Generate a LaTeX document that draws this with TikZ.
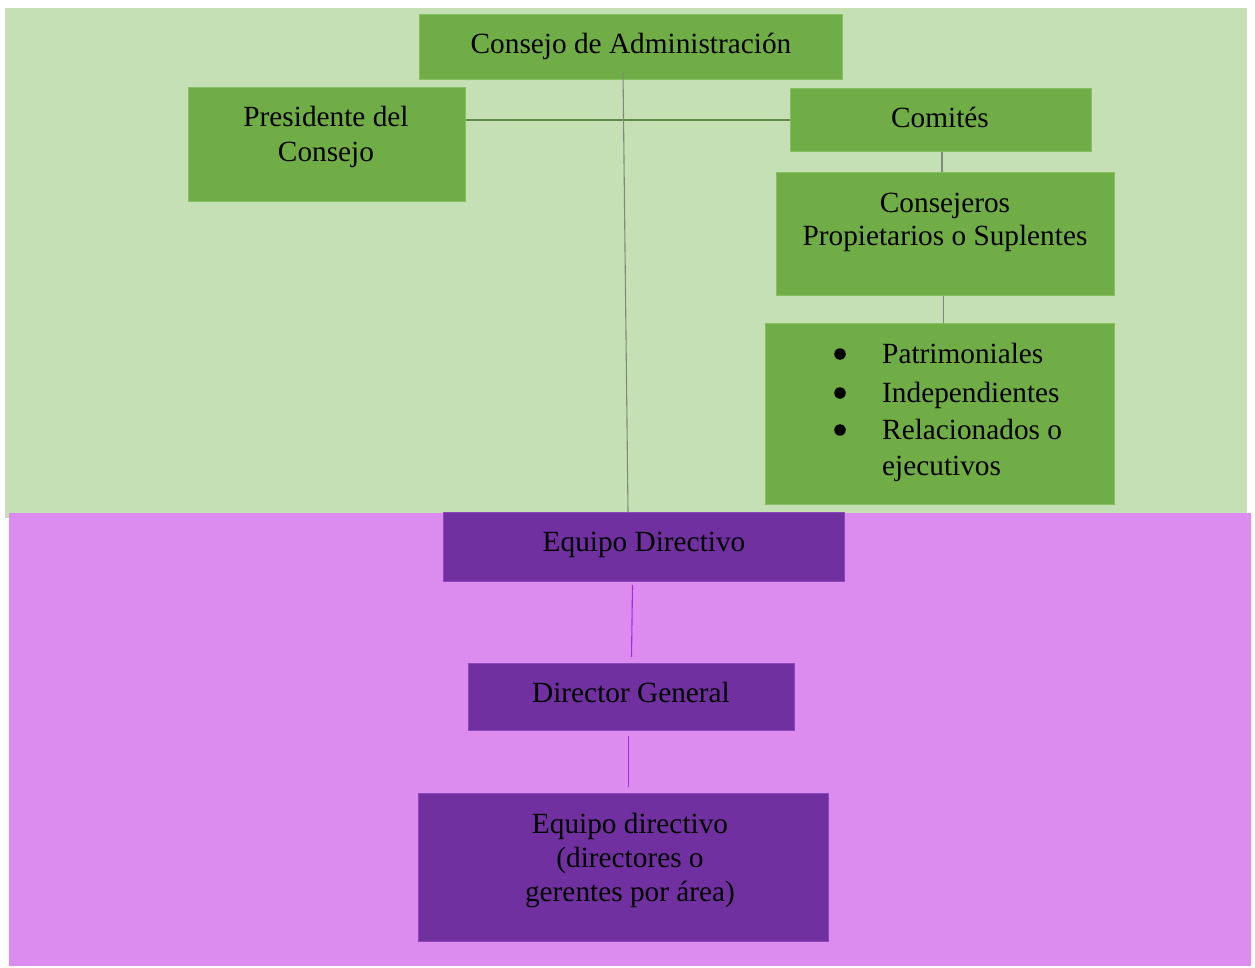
\documentclass[tikz,border=0pt]{standalone}
\usepackage{fontspec}
\setmainfont{Liberation Serif}
\definecolor{bandgreen}{HTML}{C5E0B4}
\definecolor{boxgreen}{HTML}{70AD47}
\definecolor{edgegreen}{HTML}{86BE62}
\definecolor{linkgreen}{HTML}{5F8A4A}
\definecolor{linkgray}{HTML}{7F8A7A}
\definecolor{bandpurple}{HTML}{DC8CEF}
\definecolor{boxpurple}{HTML}{7030A0}
\definecolor{edgepurple}{HTML}{8A48BC}
\definecolor{linkpurple}{HTML}{A52AE0}
\tikzset{
  gbox/.style={rectangle, fill=boxgreen, draw=edgegreen, line width=1pt, inner sep=0pt, anchor=north west},
  pbox/.style={rectangle, fill=boxpurple, draw=edgepurple, line width=1pt, inner sep=0pt, anchor=north west},
  lbl/.style={inner sep=0pt, anchor=base, text=black, font=\fontsize{29.3}{34}\selectfont},
  lbll/.style={lbl, anchor=base west},
  dot/.style={circle, fill=black, inner sep=0pt, minimum size=11.5pt},
  glink/.style={draw=linkgreen, line width=1.1pt},
  graylink/.style={draw=linkgray, line width=1.1pt},
  plink/.style={draw=linkpurple, line width=1.1pt}
}
\begin{document}
\begin{tikzpicture}[x=1pt, y=-1pt]
\useasboundingbox (0,0) rectangle (1255,967);
% two coloured bands
\fill[bandgreen] (5,8) rectangle (1247,518);
\fill[bandpurple] (9,513) rectangle (1251,966);

% board section
\node[gbox, minimum width=423pt, minimum height=65pt] (consejo) at (419,14) {};
\node[lbl] (tconsejo) at (631,53) {Consejo de Administración};

\node[gbox, minimum width=277pt, minimum height=114pt] (pres) at (188,87) {};
\node[lbl] (tpres1) at (326,126) {Presidente del};
\node[lbl] (tpres2) at (326,161) {Consejo};

\node[gbox, minimum width=301pt, minimum height=63pt] (comites) at (790,88) {};
\node[lbl] (tcomites) at (940,127) {Comités};

\node[gbox, minimum width=338pt, minimum height=123pt] (consej) at (776,172) {};
\node[lbl] (tconsej1) at (945,212) {Consejeros};
\node[lbl] (tconsej2) at (945,245) {Propietarios o Suplentes};

\node[gbox, minimum width=349pt, minimum height=181pt] (tipos) at (765,323) {};
\node[dot] (b1) at (840,354) {};
\node[dot] (b2) at (840,393) {};
\node[dot] (b3) at (840,430) {};
\node[lbll] (ttipo1) at (882,363) {Patrimoniales};
\node[lbll] (ttipo2) at (882,402) {Independientes};
\node[lbll] (ttipo3) at (882,439) {Relacionados o};
\node[lbll] (ttipo4) at (882,475) {ejecutivos};

% management section
\node[pbox, minimum width=401pt, minimum height=69pt] (equipo) at (443,512) {};
\node[lbl] (tequipo) at (644,551) {Equipo Directivo};

\node[pbox, minimum width=326pt, minimum height=67pt] (dg) at (468,663) {};
\node[lbl] (tdg) at (631,702) {Director General};

\node[pbox, minimum width=410pt, minimum height=148pt] (areas) at (418,793) {};
\node[lbl] (tareas1) at (630,833) {Equipo directivo};
\node[lbl] (tareas2) at (630,867) {(directores o};
\node[lbl] (tareas3) at (630,901) {gerentes por área)};

% connectors
\draw[glink] (comites.west) -- (comites.west -| pres.east);
\coordinate (cTop) at (623,72);
\coordinate (cBot) at ([xshift=-16pt]equipo.north);
\draw[graylink] (cTop) -- (cBot);
\draw[graylink] ([xshift=1pt]comites.south) -- ([xshift=1pt]comites.south |- consej.north);
\coordinate (kTop) at ([xshift=-2pt]consej.south);
\draw[graylink] (kTop) -- (kTop |- tipos.north);

% the y axis points down, so a positive yshift moves a point up
\coordinate (e1) at ([xshift=-11.5pt, yshift=-3pt]equipo.south);
\coordinate (e2) at ([yshift=6pt]dg.north);
\draw[plink] (e1) -- (e2);
\coordinate (d1) at ([xshift=-3pt, yshift=-5pt]dg.south);
\coordinate (d2) at ([xshift=5pt, yshift=6pt]areas.north);
\draw[plink] (d1) -- (d2);
\end{tikzpicture}
\end{document}
